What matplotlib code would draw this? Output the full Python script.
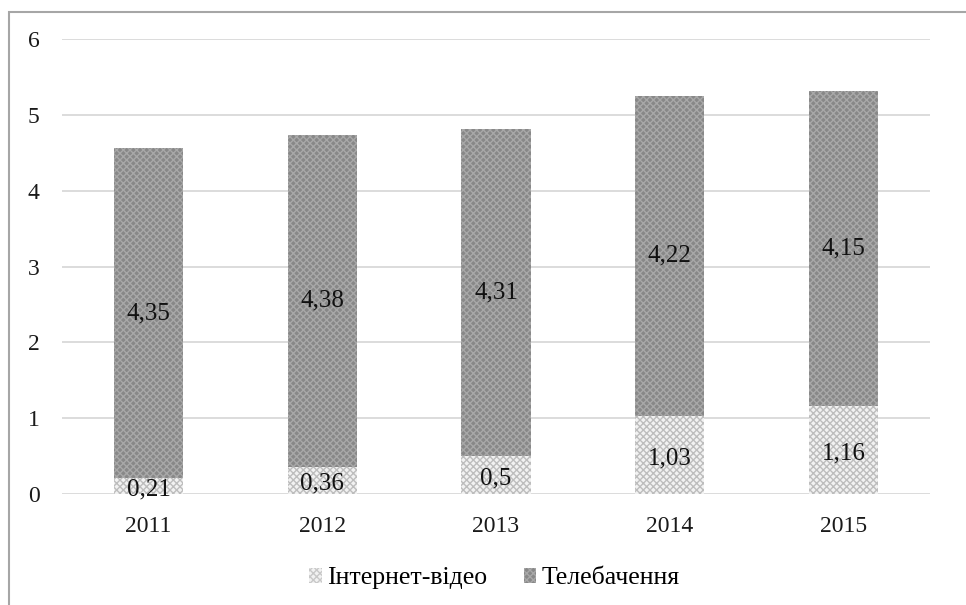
import numpy as np
import matplotlib.pyplot as plt
from matplotlib.patches import Rectangle, Patch

years = ["2011", "2012", "2013", "2014", "2015"]
internet_video = [0.21, 0.36, 0.5, 1.03, 1.16]
television = [4.35, 4.38, 4.31, 4.22, 4.15]
internet_labels = ["0,21", "0,36", "0,5", "1,03", "1,16"]
tv_labels = ["4,35", "4,38", "4,31", "4,22", "4,15"]

plt.rcParams['font.family'] = ['Liberation Serif', 'DejaVu Serif']
plt.rcParams['hatch.linewidth'] = 1.0

fig = plt.figure(figsize=(9.66, 6.05), dpi=100)
ax = fig.add_axes([0.064, 0.1835, 0.899, 0.752])

# outer frame (only left and top edges are visible in the picture)
fig.patches.append(Rectangle((9 / 966, -0.1), 1.2, 1.1 - 12 / 605, transform=fig.transFigure,
                             fill=False, edgecolor='#a6a6a6', linewidth=1.5))

x = np.arange(len(years))
w = 0.4
b1 = ax.bar(x, internet_video, w, color='#f2f2f2', hatch='xxxxx', edgecolor='#bdbdbd', linewidth=0,
            zorder=2)
b2 = ax.bar(x, television, w, bottom=internet_video, color='#888888', hatch='xxxxx',
            edgecolor='#a8a8a8', linewidth=0, zorder=2)

for i in range(len(years)):
    ax.text(x[i], internet_video[i] / 2 - 0.04, internet_labels[i], ha='center', va='center',
            fontsize=18, color='#111111', zorder=3)
    ax.text(x[i], internet_video[i] + television[i] / 2, tv_labels[i], ha='center', va='center',
            fontsize=18, color='#111111', zorder=3)

ax.set_ylim(0, 6)
ax.set_xlim(-0.5, 4.5)
ax.set_yticks(range(7))
ax.set_xticks(x)
ax.set_xticklabels(years)
ax.tick_params(length=0, labelsize=17, colors='#1a1a1a')
ax.tick_params(axis='y', pad=16)
ax.tick_params(axis='x', pad=16)
ax.grid(axis='y', color='#d9d9d9', linewidth=1.3, zorder=0)
ax.set_axisbelow(True)
for s in ax.spines.values():
    s.set_visible(False)

handles = [Patch(facecolor='#f2f2f2', hatch='xxxxx', edgecolor='#c8c8c8', linewidth=0, label='Інтернет-відео'),
           Patch(facecolor='#888888', hatch='xxxxx', edgecolor='#a8a8a8', linewidth=0, label='Телебачення')]
fig.legend(handles=handles, loc='center', bbox_to_anchor=(0.512, 0.044), ncol=2, frameon=False,
           fontsize=18.5, handlelength=0.5, handleheight=0.5, handletextpad=0.2, columnspacing=1.4)

fig.savefig('out.png', dpi=100)
